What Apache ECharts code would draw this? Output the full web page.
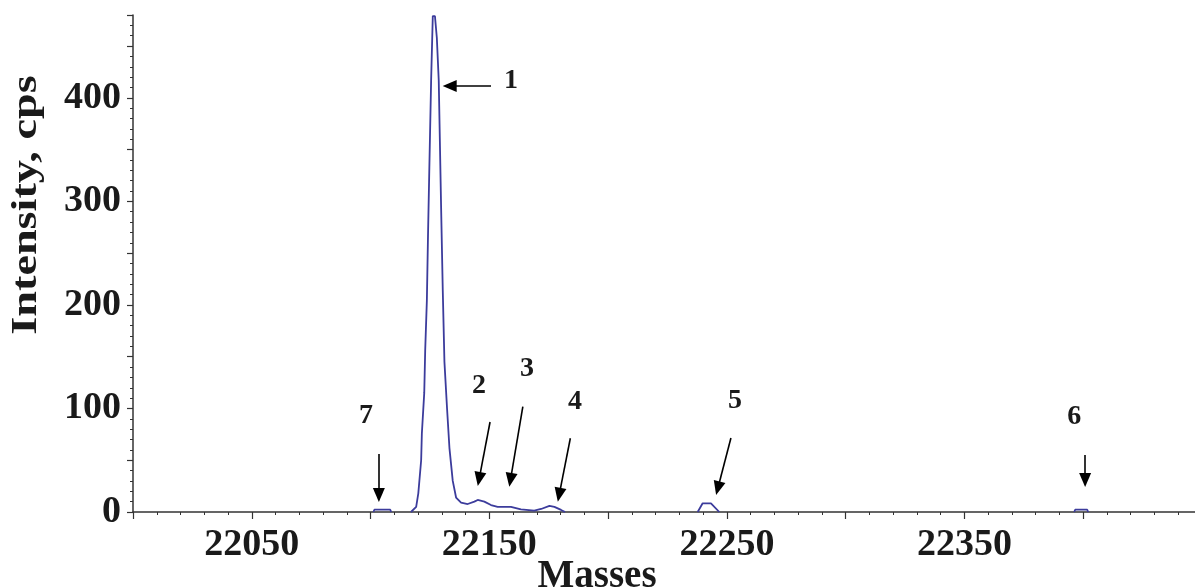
<!DOCTYPE html>
<html>
<head>
<meta charset="utf-8">
<script src="https://cdn.jsdelivr.net/npm/echarts@6/dist/echarts.min.js"></script>
<style>
html,body{margin:0;padding:0;background:#fff;}
#chart{width:1195px;height:588px;}
</style>
</head>
<body>
<div id="chart"></div>
<script>
// Spectrum trace (mass, intensity); null intensity breaks the trace
const masses = [
  22101.2, 22101.6, 22108.3, 22108.7,
  22110.0,
  22117.0, 22119.2, 22120.1, 22121.3, 22121.6, 22122.6, 22123.0, 22123.7, 22124.2, 22124.7,
  22125.5, 22126.2, 22127.1, 22127.9, 22128.7, 22129.7, 22130.4, 22131.1, 22132.2, 22133.2,
  22134.6, 22136.0, 22138.1, 22140.9, 22143.7, 22145.1, 22147.9, 22150.7, 22153.5, 22159.1,
  22163.3, 22168.9, 22171.8, 22175.3, 22177.4, 22180.2, 22181.9,
  22200.0,
  22237.7, 22239.8, 22243.3, 22246.8,
  22300.0,
  22396.2, 22396.6, 22401.7, 22402.1
];
const intensity = [
  0, 2.2, 2.2, 0,
  null,
  0, 5, 18, 50, 76, 115, 156, 204, 269, 327,
  417, 479, 479, 458, 417, 294, 214, 145, 100, 62,
  30, 14, 9, 7.7, 10, 11.6, 10, 6.7, 5, 5,
  2.6, 1.3, 2.9, 6, 5, 2, 0,
  null,
  0, 8.4, 8.4, 0,
  null,
  0, 2.2, 2.2, 0
];

// Peak annotations
const peakLabels     = ['1', '2', '3', '4', '5', '6', '7'];
const labelMass      = [22159.1, 22145.7, 22165.9, 22186.1, 22253.4, 22396.2, 22098.1];
const labelIntensity = [416.6, 121.7, 138.1, 106.2, 107.2, 91.8, 92.7];
const arrowFromMass  = [22150.7, 22150.3, 22164.1, 22184.1, 22251.7, 22400.8, 22103.5];
const arrowFromInt   = [411.4, 86.9, 101.7, 71.2, 71.5, 55.1, 56.0];
const arrowToMass    = [22133.3, 22145.7, 22158.9, 22179.4, 22246.2, 22400.8, 22103.5];
const arrowToInt     = [411.4, 31.8, 31.1, 16.6, 23.0, 30.9, 16.4];

// Axis settings
const xMin = 22000, xMax = 22450, xStep = 50;
const yMin = 0, yMax = 480, yStep = 50;

const FONT = "'Liberation Serif', 'Times New Roman', serif";
const TXT = '#1a1a1a';

const traceData = masses.map((m, i) => [m, intensity[i]]);

const arrowData = arrowFromMass.map((m, i) => [
  { coord: [m, arrowFromInt[i]], symbol: 'none' },
  { coord: [arrowToMass[i], arrowToInt[i]], symbol: 'triangle', symbolSize: [12, 14] }
]);

const labelData = peakLabels.map((t, i) => ({
  name: t,
  coord: [labelMass[i], labelIntensity[i]]
}));

const chart = echarts.init(document.getElementById('chart'), null, { renderer: 'canvas' });

chart.setOption({
  animation: false,
  backgroundColor: '#ffffff',
  grid: { left: 133, top: 15, width: 1069, height: 497, containLabel: false, outerBoundsMode: 'none' },
  xAxis: {
    type: 'value',
    min: xMin, max: xMax, interval: xStep,
    axisLine: { show: true, onZero: false, lineStyle: { color: '#333', width: 1.5 } },
    axisTick: { show: true, inside: false, length: 7, lineStyle: { color: '#333', width: 1.2 } },
    minorTick: { show: true, splitNumber: 5, length: 3, lineStyle: { color: '#333', width: 1 } },
    splitLine: { show: false },
    minorSplitLine: { show: false },
    axisLabel: {
      margin: 14,
      fontFamily: FONT, fontWeight: 'bold', fontSize: 38, color: TXT,
      formatter: v => ((v - 22050) % 100 === 0 && v < 22400 + 1 && v >= 22050) ? String(v) : ''
    }
  },
  yAxis: {
    type: 'value',
    min: yMin, max: yMax, interval: yStep,
    axisLine: { show: true, lineStyle: { color: '#333', width: 1.5 } },
    axisTick: { show: true, length: 6, lineStyle: { color: '#333', width: 1.2 } },
    minorTick: { show: true, splitNumber: 5, length: 3, lineStyle: { color: '#333', width: 1 } },
    splitLine: { show: false },
    minorSplitLine: { show: false },
    axisLabel: {
      margin: 12,
      fontFamily: FONT, fontWeight: 'bold', fontSize: 38, color: TXT,
      formatter: v => (v % 100 === 0 && v <= 400) ? String(v) : ''
    }
  },
  graphic: [
    {
      type: 'text',
      x: 27, y: 205,
      rotation: Math.PI / 2,
      scaleX: 1.32,
      style: {
        text: 'Intensity, cps',
        fontFamily: FONT, fontWeight: 'bold', fontSize: 35, fill: TXT,
        align: 'center', verticalAlign: 'middle'
      }
    },
    {
      type: 'text',
      x: 597, y: 577,
      style: {
        text: 'Masses',
        fontFamily: FONT, fontWeight: 'bold', fontSize: 39, fill: TXT,
        align: 'center', verticalAlign: 'middle'
      }
    }
  ],
  series: [
    {
      type: 'line',
      data: traceData,
      showSymbol: false,
      connectNulls: false,
      clip: true,
      lineStyle: { color: '#3c3c9c', width: 1.8 },
      itemStyle: { color: '#3c3c9c' },
      emphasis: { disabled: true },
      markLine: {
        silent: true,
        animation: false,
        symbol: ['none', 'triangle'],
        symbolSize: [12, 14],
        lineStyle: { color: '#000', width: 1.6, type: 'solid' },
        itemStyle: { color: '#000' },
        label: { show: false },
        emphasis: { disabled: true },
        data: arrowData
      },
      markPoint: {
        silent: true,
        animation: false,
        symbol: 'circle',
        symbolSize: 1,
        itemStyle: { color: 'rgba(0,0,0,0)' },
        label: {
          show: true, position: 'inside', formatter: '{b}',
          fontFamily: FONT, fontWeight: 'bold', fontSize: 28, color: TXT
        },
        emphasis: { disabled: true },
        data: labelData
      }
    }
  ]
});
</script>
</body>
</html>
